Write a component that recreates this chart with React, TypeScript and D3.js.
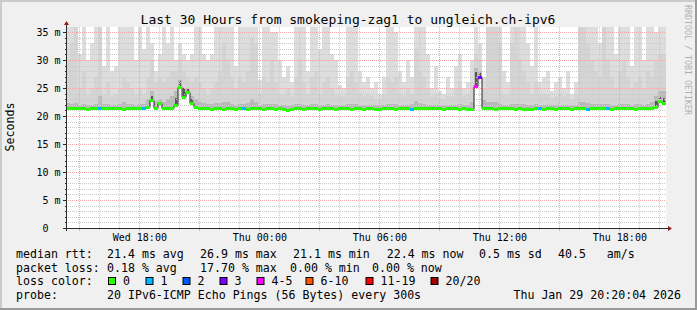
import React from 'react';
import * as d3 from 'd3';

// ---- data (one column every 12 minutes, Wed 14:20 -> Thu 20:20) ----
const MEDIAN = [
  21.4, 21.4, 21.5, 21.4, 21.4, 21.3, 21.4, 21.4, 21.5, 21.4,
  21.4, 21.5, 21.4, 21.4, 21.3, 21.4, 21.4, 21.4, 21.5, 21.4,
  21.6, 22.8, 21.5, 22.3, 21.4, 21.5, 21.4, 21.9, 25.2, 23.4,
  24.3, 22.4, 21.6, 21.4, 21.5, 21.4, 21.3, 21.4, 21.4, 21.3,
  21.4, 21.4, 21.3, 21.4, 21.4, 21.3, 21.4, 21.4, 21.4, 21.3,
  21.4, 21.4, 21.3, 21.4, 21.2, 21.1, 21.2, 21.4, 21.4, 21.3,
  21.4, 21.4, 21.4, 21.3, 21.4, 21.4, 21.4, 21.3, 21.4, 21.4,
  21.4, 21.3, 21.4, 21.4, 21.3, 21.4, 21.4, 21.3, 21.3, 21.4,
  21.4, 21.4, 21.3, 21.4, 21.4, 21.4, 21.3, 21.4, 21.4, 21.4,
  21.4, 21.4, 21.4, 21.4, 21.3, 21.4, 21.4, 21.4, 21.3, 21.4,
  21.2, 21.3, 25.3, 26.9, 21.4, 21.4, 21.4, 21.3, 21.4, 21.4,
  21.4, 21.4, 21.3, 21.4, 21.3, 21.2, 21.3, 21.4, 21.4, 21.3,
  21.4, 21.4, 21.3, 21.4, 21.4, 21.4, 21.3, 21.4, 21.4, 21.4,
  21.3, 21.4, 21.4, 21.4, 21.4, 21.4, 21.3, 21.4, 21.4, 21.4,
  21.4, 21.4, 21.3, 21.4, 21.4, 21.4, 21.4, 21.7, 22.6, 22.4,
];

const SMOKE_MAX = [
  36, 36, 36, 31, 36, 30, 33, 36, 36, 29,
  36, 28, 29, 36, 36, 36, 36, 30, 36, 32,
  36, 33, 28, 31, 36, 33, 36, 30, 33, 31,
  30, 31, 36, 36, 31, 30, 31, 36, 36, 36,
  36, 36, 29, 36, 36, 36, 36, 36, 26.5, 36,
  36, 35, 35, 30, 27, 29, 26, 36, 36, 36,
  28, 36, 36, 32, 36, 36, 31, 30, 25.5, 25,
  36, 36, 36, 28, 26, 27, 25, 26, 24, 27,
  36, 36, 35, 28, 26, 30, 27, 36, 36, 36,
  31, 25, 29, 24.5, 24, 27, 25, 29, 31, 25,
  26, 30, 36, 33, 27, 36, 36, 36, 36, 28,
  26, 36, 36, 36, 36, 33, 29, 36, 26, 27,
  28, 24.5, 26, 27, 25, 28, 24, 26, 36, 36,
  36, 36, 36, 33, 36, 36, 36, 31, 36, 36,
  36, 29, 36, 36, 30, 36, 36, 35, 36, 36,
];

const SMOKE_HIGH = [
  30, 33, 36, 25, 28, 24, 25, 27, 36, 24,
  26, 23.5, 24, 25, 27, 26, 25, 24, 25, 24,
  27, 30, 26, 27, 26, 27, 28, 28, 30, 28,
  27, 26, 27, 26, 25, 24, 25, 26, 28, 33,
  30, 27, 25, 27, 26, 28, 34, 33, 24, 27,
  26, 30, 26, 24, 24, 25, 23.5, 27, 30, 26,
  24, 27, 28, 24, 26, 27, 25, 24, 23.5, 23.5,
  27, 28, 26, 24, 23.5, 24, 23.5, 23, 23, 24,
  27, 26, 27, 24, 23.5, 25, 24, 32, 28, 27,
  25, 23.5, 24, 23, 23, 23.5, 23.5, 25, 26, 23.5,
  24, 26, 31, 30, 25, 36, 36, 36, 33, 24,
  24, 33, 36, 30, 28, 26, 24, 26, 24, 24,
  24, 23.2, 23.5, 24, 23.5, 24, 23, 24, 36, 36,
  33, 30, 28, 27, 36, 30, 27, 25, 28, 30,
  27, 25, 26, 27, 25, 28, 27, 30, 31, 31,
];

const SMOKE_MID = [
  22.4, 22.2, 22.4, 22.0, 22.1, 22.0, 22.0, 22.1, 23.5, 22.1,
  22.1, 22.0, 22.0, 22.1, 22.5, 22.1, 22.1, 22.0, 22.1, 22.1,
  23.0, 24.5, 22.6, 23.0, 22.5, 23.0, 23.5, 24.5, 26.5, 25.0,
  24.8, 23.5, 23.0, 22.5, 22.4, 22.1, 22.1, 22.4, 22.4, 22.5,
  22.5, 22.1, 22.0, 22.1, 22.1, 22.4, 23.0, 22.5, 22.0, 22.1,
  22.1, 22.2, 22.1, 22.0, 21.9, 21.8, 21.9, 22.1, 22.2, 22.0,
  22.0, 22.1, 22.1, 22.0, 22.0, 22.1, 22.0, 22.0, 21.9, 21.9,
  22.1, 22.1, 22.1, 22.0, 21.9, 22.0, 21.9, 21.9, 21.9, 22.0,
  22.1, 22.1, 22.1, 22.0, 22.0, 22.0, 22.1, 22.6, 22.4, 22.1,
  22.0, 21.9, 22.0, 21.9, 21.9, 21.9, 21.9, 22.0, 22.1, 22.0,
  22.0, 22.5, 28.5, 28.0, 22.8, 22.5, 22.5, 22.5, 22.1, 22.0,
  22.0, 22.1, 22.1, 22.1, 22.1, 22.0, 22.0, 22.1, 22.0, 22.0,
  22.0, 21.9, 21.9, 22.0, 21.9, 22.0, 21.9, 22.0, 22.5, 22.5,
  22.4, 22.1, 22.1, 22.1, 22.2, 22.1, 22.0, 22.0, 22.1, 22.1,
  22.1, 22.0, 22.1, 22.1, 22.0, 22.1, 22.5, 23.5, 24.5, 24.5,
];

// [column index, ms] inner pings during the latency spikes
const SMOKE_CORE: [number, number][] = [
  [21, 23.6], [27, 23.2], [28, 26.2], [29, 25.0], [30, 24.8], [31, 23.0],
  [102, 27.8], [103, 27.6], [147, 22.6], [148, 23.4], [149, 23.2],
];

// [column index, lost pings out of 20]
const LOSS_EVENTS: [number, number][] = [
  [8, 1], [19, 1], [44, 1], [86, 1], [102, 4], [103, 3], [118, 1], [130, 1], [135, 1],
];

const LOSS_LABELS = ['0', '1', '2', '3', '4-5', '6-10', '11-19', '20/20'];
const LOSS_LIMITS = [0, 1, 2, 3, 5, 10, 19, 20];
const LOSS_COLORS = ['#26ff00', '#00b8ff', '#0059ff', '#7e00ff', '#ff00ff', '#ff5500', '#ff0000', '#a10000'];

const Y_TICKS = [0, 5, 10, 15, 20, 25, 30, 35];

const RTT_STATS = ['21.4 ms avg', '26.9 ms max', '21.1 ms min', '22.4 ms now', '0.5 ms sd', '40.5', 'am/s'];
const LOSS_STATS = ['0.18 % avg', '17.70 % max', '0.00 % min', '0.00 % now'];

const TITLE = 'Last 30 Hours from smokeping-zag1 to ungleich.ch-ipv6';
const PROBE = '20 IPv6-ICMP Echo Pings (56 Bytes) every 300s';
const STAMP = 'Thu Jan 29 20:20:04 2026';

// ---- layout ----
const W = 697;
const H = 310;
const X0 = 66;
const X1 = 666;
const Y0 = 228;
const YTOP = 27;
const FONT = '"DejaVu Sans Mono", monospace';
const MINOR = '#cacaca';
const MAJOR = '#f2a6a6';

const START = new Date(2026, 0, 28, 14, 20, 0);
const STEP_MS = 12 * 60 * 1000;
const END = new Date(START.getTime() + MEDIAN.length * STEP_MS);

export default function App() {
  const x = d3.scaleTime().domain([START, END]).range([X0, X1]);
  const y = d3.scaleLinear().domain([0, 35.9]).range([Y0, YTOP]);
  const times = MEDIAN.map((_, i) => new Date(START.getTime() + i * STEP_MS));
  const tEnd = (i: number) => new Date(START.getTime() + (i + 1) * STEP_MS);

  const lossAt = new Map<number, number>(LOSS_EVENTS.map(([i, n]) => [i, n]));
  const lossColor = (n: number) => {
    const k = LOSS_LIMITS.findIndex((l) => n <= l);
    return LOSS_COLORS[k < 0 ? LOSS_COLORS.length - 1 : k];
  };

  const hours = x.ticks(d3.timeHour.every(1) as any);
  const minorY = d3.range(1, 36).filter((v) => v % 5 !== 0);
  const fmt = d3.timeFormat('%a %H:%M');

  const levels: { data: [number, number][]; color: string }[] = [
    { data: SMOKE_MAX.map((v, i) => [i, v]), color: '#dddddd' },
    { data: SMOKE_HIGH.map((v, i) => [i, v]), color: '#d4d4d4' },
    { data: SMOKE_MID.map((v, i) => [i, v]), color: '#b9b9b9' },
    { data: SMOKE_CORE, color: '#555555' },
  ];

  const medianLine = d3
    .line<number>()
    .x((_, i) => x(i < times.length ? times[i] : END))
    .y((d) => Math.round(y(d)) + 0.5)
    .curve(d3.curveStepAfter)([...MEDIAN, MEDIAN[MEDIAN.length - 1]]);

  const rowY = [258, 271.5, 285, 298.5];
  const statX1 = [107, 200, 293, 386.7, 479, 558, 606.7];
  const statX2 = [107, 200, 290, 372];
  const sqX = [108.5, 146, 183, 220, 257, 306, 366, 431];

  return (
    <svg
      width={W}
      height={H}
      style={{ position: 'absolute', left: 0, top: 0, display: 'block' }}
      fontFamily={FONT}
    >
      <defs>
        <clipPath id="plot">
          <rect x={X0} y={YTOP} width={X1 - X0} height={Y0 - YTOP} />
        </clipPath>
      </defs>
      {/* background and frame */}
      <rect x={0} y={0} width={W} height={H} fill="#f0f0f0" />
      <rect x={0} y={0} width={W} height={2} fill="#cbcbcb" />
      <rect x={0} y={0} width={2} height={H} fill="#cbcbcb" />
      <rect x={0} y={H - 2} width={W} height={2} fill="#999999" />
      <rect x={W - 2} y={0} width={2} height={H} fill="#999999" />

      {/* canvas */}
      <rect x={X0} y={YTOP} width={X1 - X0} height={Y0 - YTOP} fill="#ffffff" />

      {/* smoke */}
      <g clipPath="url(#plot)" shapeRendering="crispEdges">
        {levels.map((lv, li) => (
          <g key={li} fill={lv.color}>
            {lv.data.map(([i, v]) => {
              const xa = Math.round(x(times[i]));
              const xb = Math.round(x(tEnd(i)));
              const yt = Math.round(y(v));
              const yb = Math.round(y(MEDIAN[i]));
              const w = li === 3 ? Math.max(1, Math.round((xb - xa) / 2)) : xb - xa;
              return <rect key={i} x={xa + (li === 3 ? 1 : 0)} y={yt} width={w} height={Math.max(0, yb - yt)} />;
            })}
          </g>
        ))}
      </g>

      {/* grid */}
      <g shapeRendering="crispEdges" strokeWidth={1} strokeDasharray="1,1" fill="none">
        {minorY.map((v) => (
          <line key={'my' + v} x1={X0} x2={X1} y1={Math.round(y(v)) + 0.5} y2={Math.round(y(v)) + 0.5} stroke={MINOR} />
        ))}
        {hours
          .filter((h) => h.getHours() % 3 !== 0)
          .map((h) => (
            <line key={'mx' + +h} x1={Math.round(x(h)) + 0.5} x2={Math.round(x(h)) + 0.5} y1={YTOP} y2={Y0} stroke={MINOR} />
          ))}
        {Y_TICKS.filter((v) => v > 0).map((v) => (
          <line key={'My' + v} x1={X0} x2={X1} y1={Math.round(y(v)) + 0.5} y2={Math.round(y(v)) + 0.5} stroke={MAJOR} />
        ))}
        {hours
          .filter((h) => h.getHours() % 3 === 0)
          .map((h) => (
            <line key={'Mx' + +h} x1={Math.round(x(h)) + 0.5} x2={Math.round(x(h)) + 0.5} y1={YTOP} y2={Y0} stroke={MAJOR} />
          ))}
      </g>

      {/* median line */}
      <path d={medianLine || ''} fill="none" stroke="#202020" strokeWidth={1} clipPath="url(#plot)" />
      <g shapeRendering="crispEdges">
        {MEDIAN.map((m, i) => {
          const xa = Math.round(x(times[i]));
          const xb = Math.round(x(tEnd(i)));
          const ym = Math.round(y(m));
          return <rect key={i} x={xa} y={ym - 1} width={xb - xa} height={3} fill={lossColor(lossAt.get(i) || 0)} />;
        })}
      </g>

      {/* axes */}
      <g shapeRendering="crispEdges" stroke="#2c2c2c">
        <line x1={X0 + 0.5} x2={X0 + 0.5} y1={Y0 + 3} y2={YTOP - 4} />
        <line x1={X0 - 3} x2={X1 + 4} y1={Y0 + 0.5} y2={Y0 + 0.5} />
        {Y_TICKS.map((v) => (
          <line key={'yt' + v} x1={X0 - 3} x2={X0} y1={Math.round(y(v)) + 0.5} y2={Math.round(y(v)) + 0.5} />
        ))}
        {minorY.map((v) => (
          <line key={'ymt' + v} x1={X0 - 1} x2={X0} y1={Math.round(y(v)) + 0.5} y2={Math.round(y(v)) + 0.5} />
        ))}
        {hours.map((h) => (
          <line
            key={'xt' + +h}
            x1={Math.round(x(h)) + 0.5}
            x2={Math.round(x(h)) + 0.5}
            y1={Y0 + 1}
            y2={Y0 + (h.getHours() % 3 === 0 ? 3 : 2)}
            stroke={h.getHours() % 3 === 0 ? MAJOR : MINOR}
          />
        ))}
      </g>
      <path d={`M${X0 - 2},${YTOP - 2} L${X0 + 3},${YTOP - 2} L${X0 + 0.5},${YTOP - 6} Z`} fill="#8b1a1a" />
      <path d={`M${X1 + 2},${Y0 - 2} L${X1 + 2},${Y0 + 3} L${X1 + 6},${Y0 + 0.5} Z`} fill="#8b1a1a" />

      {/* axis labels */}
      <g fontSize={10} fill="#000">
        {Y_TICKS.map((v) => (
          <text key={'yl' + v} x={v === 0 ? 48.5 : 60.5} y={y(v) + 3.5} textAnchor="end">
            {v === 0 ? '0' : `${v} m`}
          </text>
        ))}
        {hours
          .filter((h) => h.getHours() % 6 === 0)
          .map((h) => (
            <text key={'xl' + +h} x={x(h) + 0.5} y={240.5} textAnchor="middle">
              {fmt(h)}
            </text>
          ))}
      </g>

      {/* title and unit */}
      <text x={348} y={23.5} textAnchor="middle" fontSize={13} fill="#000">
        {TITLE}
      </text>
      <text transform="translate(14,127) rotate(-90)" textAnchor="middle" fontSize={11.6} fill="#000">
        Seconds
      </text>
      <text transform="translate(685,5) rotate(90)" fontSize={8.3} fill="#b0b0b0">
        RRDTOOL / TOBI OETIKER
      </text>

      {/* legend */}
      <g fontSize={11.6} fill="#000">
        <text x={16} y={rowY[0]}>median rtt:</text>
        {RTT_STATS.map((s, i) => (
          <text key={'r' + i} x={statX1[i]} y={rowY[0]}>
            {s}
          </text>
        ))}
        <text x={16} y={rowY[1]}>packet loss:</text>
        {LOSS_STATS.map((s, i) => (
          <text key={'l' + i} x={statX2[i]} y={rowY[1]}>
            {s}
          </text>
        ))}
        <text x={16} y={rowY[2]}>loss color:</text>
        {LOSS_LABELS.map((lab, i) => (
          <g key={'lc' + i}>
            <rect x={sqX[i]} y={277.5} width={7} height={7} fill={LOSS_COLORS[i]} stroke="#000" strokeWidth={1} />
            <text x={sqX[i] + 14.5} y={rowY[2]}>
              {lab}
            </text>
          </g>
        ))}
        <text x={16} y={rowY[3]}>probe:</text>
        <text x={107} y={rowY[3]}>{PROBE}</text>
        <text x={681} y={rowY[3]} textAnchor="end">
          {STAMP}
        </text>
      </g>
    </svg>
  );
}
